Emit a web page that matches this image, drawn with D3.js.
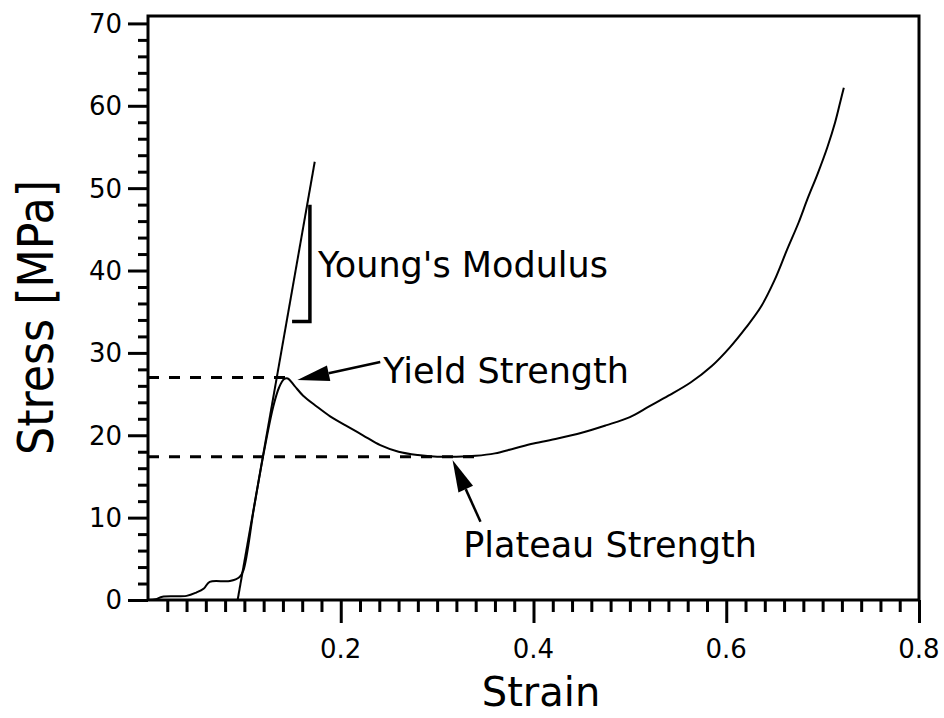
<!DOCTYPE html>
<html>
<head>
<meta charset="utf-8">
<script src="https://cdn.jsdelivr.net/npm/d3@7/dist/d3.min.js"></script>
<style>
  html, body { margin:0; padding:0; background:#fff; }
  svg { display:block; font-family:"DejaVu Sans", Verdana, sans-serif; }
</style>
</head>
<body>
<svg id="chart" width="944" height="718"></svg>
<script>
/* ===== Stress-strain curve with annotated properties ===== */

// measured curve (strain, stress in MPa)
const strain = [0, 0.008, 0.015, 0.04, 0.05, 0.058, 0.064, 0.085, 0.095, 0.099, 0.11, 0.12, 0.13, 0.136,
  0.141, 0.145, 0.152, 0.161, 0.175, 0.189, 0.205, 0.223, 0.241, 0.26, 0.28, 0.3, 0.32,
  0.34, 0.36, 0.38, 0.4, 0.425, 0.45, 0.475, 0.5, 0.52, 0.54, 0.563, 0.585, 0.604, 0.62,
  0.636, 0.65, 0.663, 0.675, 0.684, 0.695, 0.705, 0.713, 0.719, 0.722];
const stress = [0, 0.1, 0.4, 0.5, 0.9, 1.4, 2.2, 2.3, 2.8, 3.6, 11.2, 17.8, 23.5, 25.8,
  26.8, 26.9, 26.0, 24.8, 23.5, 22.3, 21.2, 20.0, 18.8, 18.0, 17.6, 17.4, 17.4,
  17.5, 17.8, 18.4, 19.0, 19.6, 20.3, 21.2, 22.2, 23.5, 24.8, 26.4, 28.4, 30.7, 33.0,
  35.6, 38.8, 42.5, 45.8, 48.6, 51.8, 55.0, 58.0, 60.8, 62.2];

// Young's modulus fit line (two end points)
const modulusStrain = [0.093, 0.173];
const modulusStress = [0, 53.2];

// slope marker: horizontal foot + vertical leg
const slopeStrain = [0.1495, 0.168, 0.168];
const slopeStress = [33.8, 33.8, 48.0];

// reference levels (dashed)
const levelNames = ["yield", "plateau"];
const levelStress = [27.0, 17.4];
const levelEnd = [0.145, 0.34];

// annotations: label, text anchor point, arrow tail -> tip
const noteLabels = ["Young's Modulus", "Yield Strength", "Plateau Strength"];
const noteX = [0.1765, 0.244, 0.327];
const noteY = [39.2, 26.4, 5.2];
const arrowFrom = [null, [0.241, 28.9], [0.345, 9.5]];
const arrowTo   = [null, [0.155, 26.7], [0.316, 17.0]];

// axes
const xTicks = [0.2, 0.4, 0.6, 0.8];
const xTickLabels = ["0.2", "0.4", "0.6", "0.8"];
const yTicks = [0, 10, 20, 30, 40, 50, 60, 70];
const yTickLabels = ["0", "10", "20", "30", "40", "50", "60", "70"];

/* ---------- Layout ---------- */
const plot = { left:148, right:919, top:16, bottom:600 };

const svg = d3.select("#chart");
const x = d3.scaleLinear().domain([0, 0.8]).range([plot.left, plot.right]);
const y = d3.scaleLinear().domain([0, 70.9]).range([plot.bottom, plot.top]);

/* ---------- Axes ---------- */
function tickGroup(axis, shift){
  svg.append("g")
    .attr("transform", shift)
    .call(axis)
    .call(g => g.select(".domain").remove())
    .call(g => g.selectAll("line").attr("stroke","#000").attr("stroke-width",3));
}

function drawAxes(){
  const xMinor = d3.range(0.02, 0.8, 0.02).filter(v => !xTicks.some(t => Math.abs(t - v) < 1e-6));
  const yMinor = d3.range(2, 70, 2).filter(v => v % 10 !== 0);

  // bottom axis: major + minor ticks pointing down
  tickGroup(d3.axisBottom(x).tickValues(xTicks).tickSize(23).tickFormat(""), `translate(0,${plot.bottom})`);
  tickGroup(d3.axisBottom(x).tickValues(xMinor).tickSize(12).tickFormat(""), `translate(0,${plot.bottom})`);

  // left axis
  tickGroup(d3.axisLeft(y).tickValues(yTicks).tickSize(20).tickFormat(""), `translate(${plot.left},0)`);
  tickGroup(d3.axisLeft(y).tickValues(yMinor).tickSize(10).tickFormat(""), `translate(${plot.left},0)`);

  // tick labels
  svg.append("g").selectAll("text")
    .data(xTicks)
    .join("text")
    .attr("x", d => x(d))
    .attr("y", 658)
    .attr("text-anchor","middle")
    .attr("font-size", 26)
    .text((d,i) => xTickLabels[i]);

  svg.append("g").selectAll("text")
    .data(yTicks)
    .join("text")
    .attr("x", plot.left - 26)
    .attr("y", d => y(d))
    .attr("dy", "0.36em")
    .attr("text-anchor","end")
    .attr("font-size", 26)
    .text((d,i) => yTickLabels[i]);

  // frame
  svg.append("rect")
    .attr("x", plot.left).attr("y", plot.top)
    .attr("width", plot.right - plot.left)
    .attr("height", plot.bottom - plot.top)
    .attr("fill","none")
    .attr("stroke","#000")
    .attr("stroke-width",3);

  // axis titles
  svg.append("text")
    .attr("x", 541).attr("y", 706)
    .attr("text-anchor","middle")
    .attr("font-size", 40)
    .text("Strain");

  svg.append("text")
    .attr("transform", `translate(53,${(180 + 455) / 2}) rotate(-90)`)
    .attr("text-anchor","middle")
    .attr("font-size", 50)
    .attr("textLength", 275)
    .attr("lengthAdjust","spacingAndGlyphs")
    .text("Stress [MPa]");
}

/* ---------- Data marks ---------- */
function drawCurve(){
  const pts = strain.map((s,i) => [s, stress[i]]);
  const line = d3.line()
    .x(d => x(d[0])).y(d => y(d[1]))
    .curve(d3.curveCatmullRom.alpha(0.5));

  // dashed yield / plateau levels
  svg.append("g").selectAll("line")
    .data(levelNames)
    .join("line")
    .attr("x1", x(0))
    .attr("x2", (d,i) => x(levelEnd[i]))
    .attr("y1", (d,i) => y(levelStress[i]))
    .attr("y2", (d,i) => y(levelStress[i]))
    .attr("stroke","#000")
    .attr("stroke-width",3)
    .attr("stroke-dasharray","11,10");

  // modulus line
  svg.append("line")
    .attr("x1", x(modulusStrain[0])).attr("y1", y(modulusStress[0]))
    .attr("x2", x(modulusStrain[1])).attr("y2", y(modulusStress[1]))
    .attr("stroke","#000")
    .attr("stroke-width",2);

  // slope marker
  svg.append("path")
    .attr("d", d3.line()(slopeStrain.map((s,i) => [x(s), y(slopeStress[i])])))
    .attr("fill","none")
    .attr("stroke","#000")
    .attr("stroke-width",3.5);

  // measured curve
  svg.append("path")
    .datum(pts)
    .attr("d", line)
    .attr("fill","none")
    .attr("stroke","#000")
    .attr("stroke-width",2)
    .attr("stroke-linejoin","round");
}

/* ---------- Annotations ---------- */
function drawNotes(){
  svg.append("g").selectAll("text")
    .data(noteLabels)
    .join("text")
    .attr("x", (d,i) => x(noteX[i]))
    .attr("y", (d,i) => y(noteY[i]))
    .attr("font-size", 35)
    .text(d => d);

  for (let i = 0; i < noteLabels.length; i++){
    if (!arrowFrom[i]) continue;
    const x0 = x(arrowFrom[i][0]), y0 = y(arrowFrom[i][1]);
    const x1 = x(arrowTo[i][0]),   y1 = y(arrowTo[i][1]);
    const ang = Math.atan2(y1 - y0, x1 - x0);
    const headLen = 32, headHalf = 8;
    const bx = x1 - headLen * Math.cos(ang), by = y1 - headLen * Math.sin(ang);
    const nx = -Math.sin(ang), ny = Math.cos(ang);

    svg.append("line")
      .attr("x1", x0).attr("y1", y0)
      .attr("x2", bx).attr("y2", by)
      .attr("stroke","#000")
      .attr("stroke-width",2.5);

    svg.append("path")
      .attr("d", `M${x1},${y1}L${bx + nx*headHalf},${by + ny*headHalf}L${bx - nx*headHalf},${by - ny*headHalf}Z`)
      .attr("fill","#000");
  }
}

drawCurve();
drawAxes();
drawNotes();
</script>
</body>
</html>
